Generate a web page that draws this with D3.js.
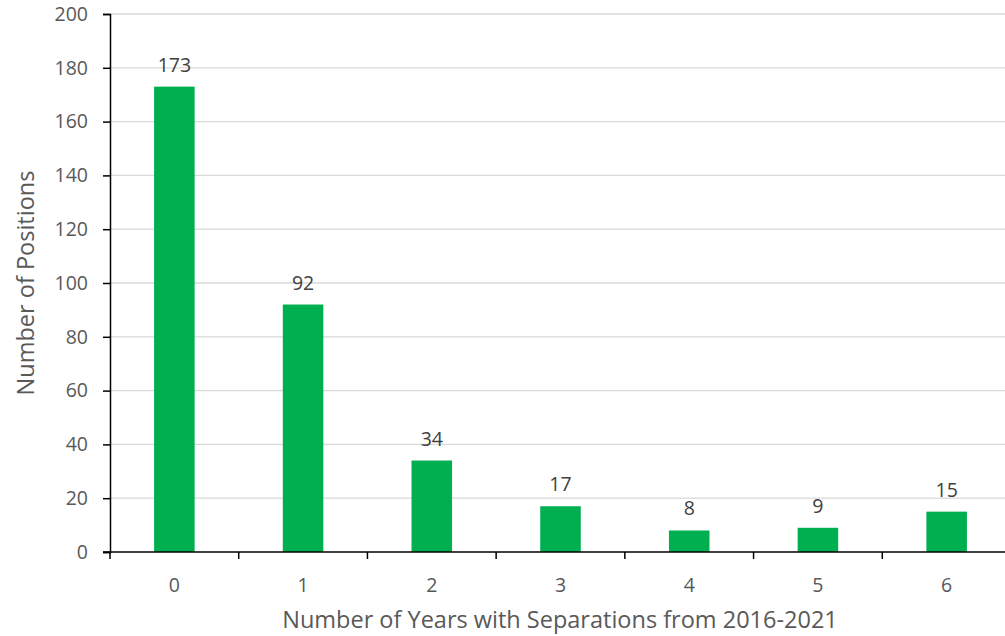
<!DOCTYPE html>
<html>
<head>
<meta charset="utf-8">
<script src="https://cdn.jsdelivr.net/npm/d3@7"></script>
<style>
  html, body { margin: 0; padding: 0; background: #fff; }
  svg { display: block; font-family: "Open Sans", Lato, sans-serif; }
</style>
</head>
<body>
<div id="chart"></div>
<script>
// Positions by number of years with separations
const categories = ['0', '1', '2', '3', '4', '5', '6'];
const values = [173, 92, 34, 17, 8, 9, 15];
const yTicks = [0, 20, 40, 60, 80, 100, 120, 140, 160, 180, 200];

const W = 1005, H = 636;
const FONT = '"Open Sans", Lato, sans-serif';
const margin = { left: 110, top: 14, bottom: 84 };
const plotRight = 1011; // last category band runs slightly off canvas

const svg = d3.select('#chart').append('svg')
  .attr('width', W)
  .attr('height', H);

const x = d3.scaleBand()
  .domain(categories)
  .range([margin.left, plotRight])
  .paddingInner(0.685)
  .paddingOuter(0.3425);

const xb = d3.scaleBand() // full-width bands for tick marks
  .domain(categories)
  .range([margin.left, plotRight]);

const y = d3.scaleLinear()
  .domain([0, 200])
  .range([H - margin.bottom, margin.top]);

// Gridlines
svg.append('g')
  .selectAll('line')
  .data(yTicks.filter(function(t) { return t > 0; }))
  .join('line')
  .attr('x1', margin.left)
  .attr('x2', W)
  .attr('y1', function(d) { return y(d); })
  .attr('y2', function(d) { return y(d); })
  .attr('stroke', '#d9d9d9')
  .attr('stroke-width', 1.3);

// Bars
svg.append('g')
  .selectAll('rect')
  .data(values)
  .join('rect')
  .attr('x', function(d, i) { return x(categories[i]); })
  .attr('y', function(d) { return y(d); })
  .attr('width', x.bandwidth())
  .attr('height', function(d) { return y(0) - y(d); })
  .attr('fill', '#00b050');

// Data labels
svg.append('g')
  .selectAll('text')
  .data(values)
  .join('text')
  .attr('x', function(d, i) { return x(categories[i]) + x.bandwidth() / 2; })
  .attr('y', function(d) { return y(d) - 15; })
  .attr('text-anchor', 'middle')
  .attr('fill', '#404040')
  .attr('font-size', 19.5)
  .text(function(d) { return d; });

// Y axis
const yAxis = svg.append('g')
  .attr('transform', 'translate(' + margin.left + ',0)')
  .call(d3.axisLeft(y).tickValues(yTicks).tickSize(7).tickPadding(15));
yAxis.select('.domain').attr('stroke', '#000').attr('stroke-width', 1.5);
yAxis.selectAll('.tick line').attr('stroke', '#000').attr('stroke-width', 1.5);
yAxis.selectAll('.tick text')
  .attr('fill', '#595959')
  .attr('font-size', 19.5)
  .attr('font-family', FONT);

// X axis line + tick marks at band boundaries
const xAxisG = svg.append('g');
xAxisG.append('line')
  .attr('x1', margin.left - 7)
  .attr('x2', W)
  .attr('y1', y(0))
  .attr('y2', y(0))
  .attr('stroke', '#000')
  .attr('stroke-width', 1.5);
xAxisG.selectAll('line.tk')
  .data(categories)
  .join('line')
  .attr('class', 'tk')
  .attr('x1', function(d) { return xb(d); })
  .attr('x2', function(d) { return xb(d); })
  .attr('y1', y(0))
  .attr('y2', y(0) + 7)
  .attr('stroke', '#000')
  .attr('stroke-width', 1.5);
xAxisG.selectAll('text')
  .data(categories)
  .join('text')
  .attr('x', function(d) { return x(d) + x.bandwidth() / 2; })
  .attr('y', y(0) + 40)
  .attr('text-anchor', 'middle')
  .attr('fill', '#595959')
  .attr('font-size', 19.5)
  .text(function(d) { return d; });

// Axis titles
svg.append('text')
  .attr('transform', 'translate(34,' + ((margin.top + y(0)) / 2) + ') rotate(-90)')
  .attr('text-anchor', 'middle')
  .attr('fill', '#595959')
  .attr('font-size', 23.5)
  .text('Number of Positions');

svg.append('text')
  .attr('x', 560)
  .attr('y', 628)
  .attr('text-anchor', 'middle')
  .attr('fill', '#595959')
  .attr('font-size', 23.5)
  .text('Number of Years with Separations from 2016-2021');
</script>
</body>
</html>
